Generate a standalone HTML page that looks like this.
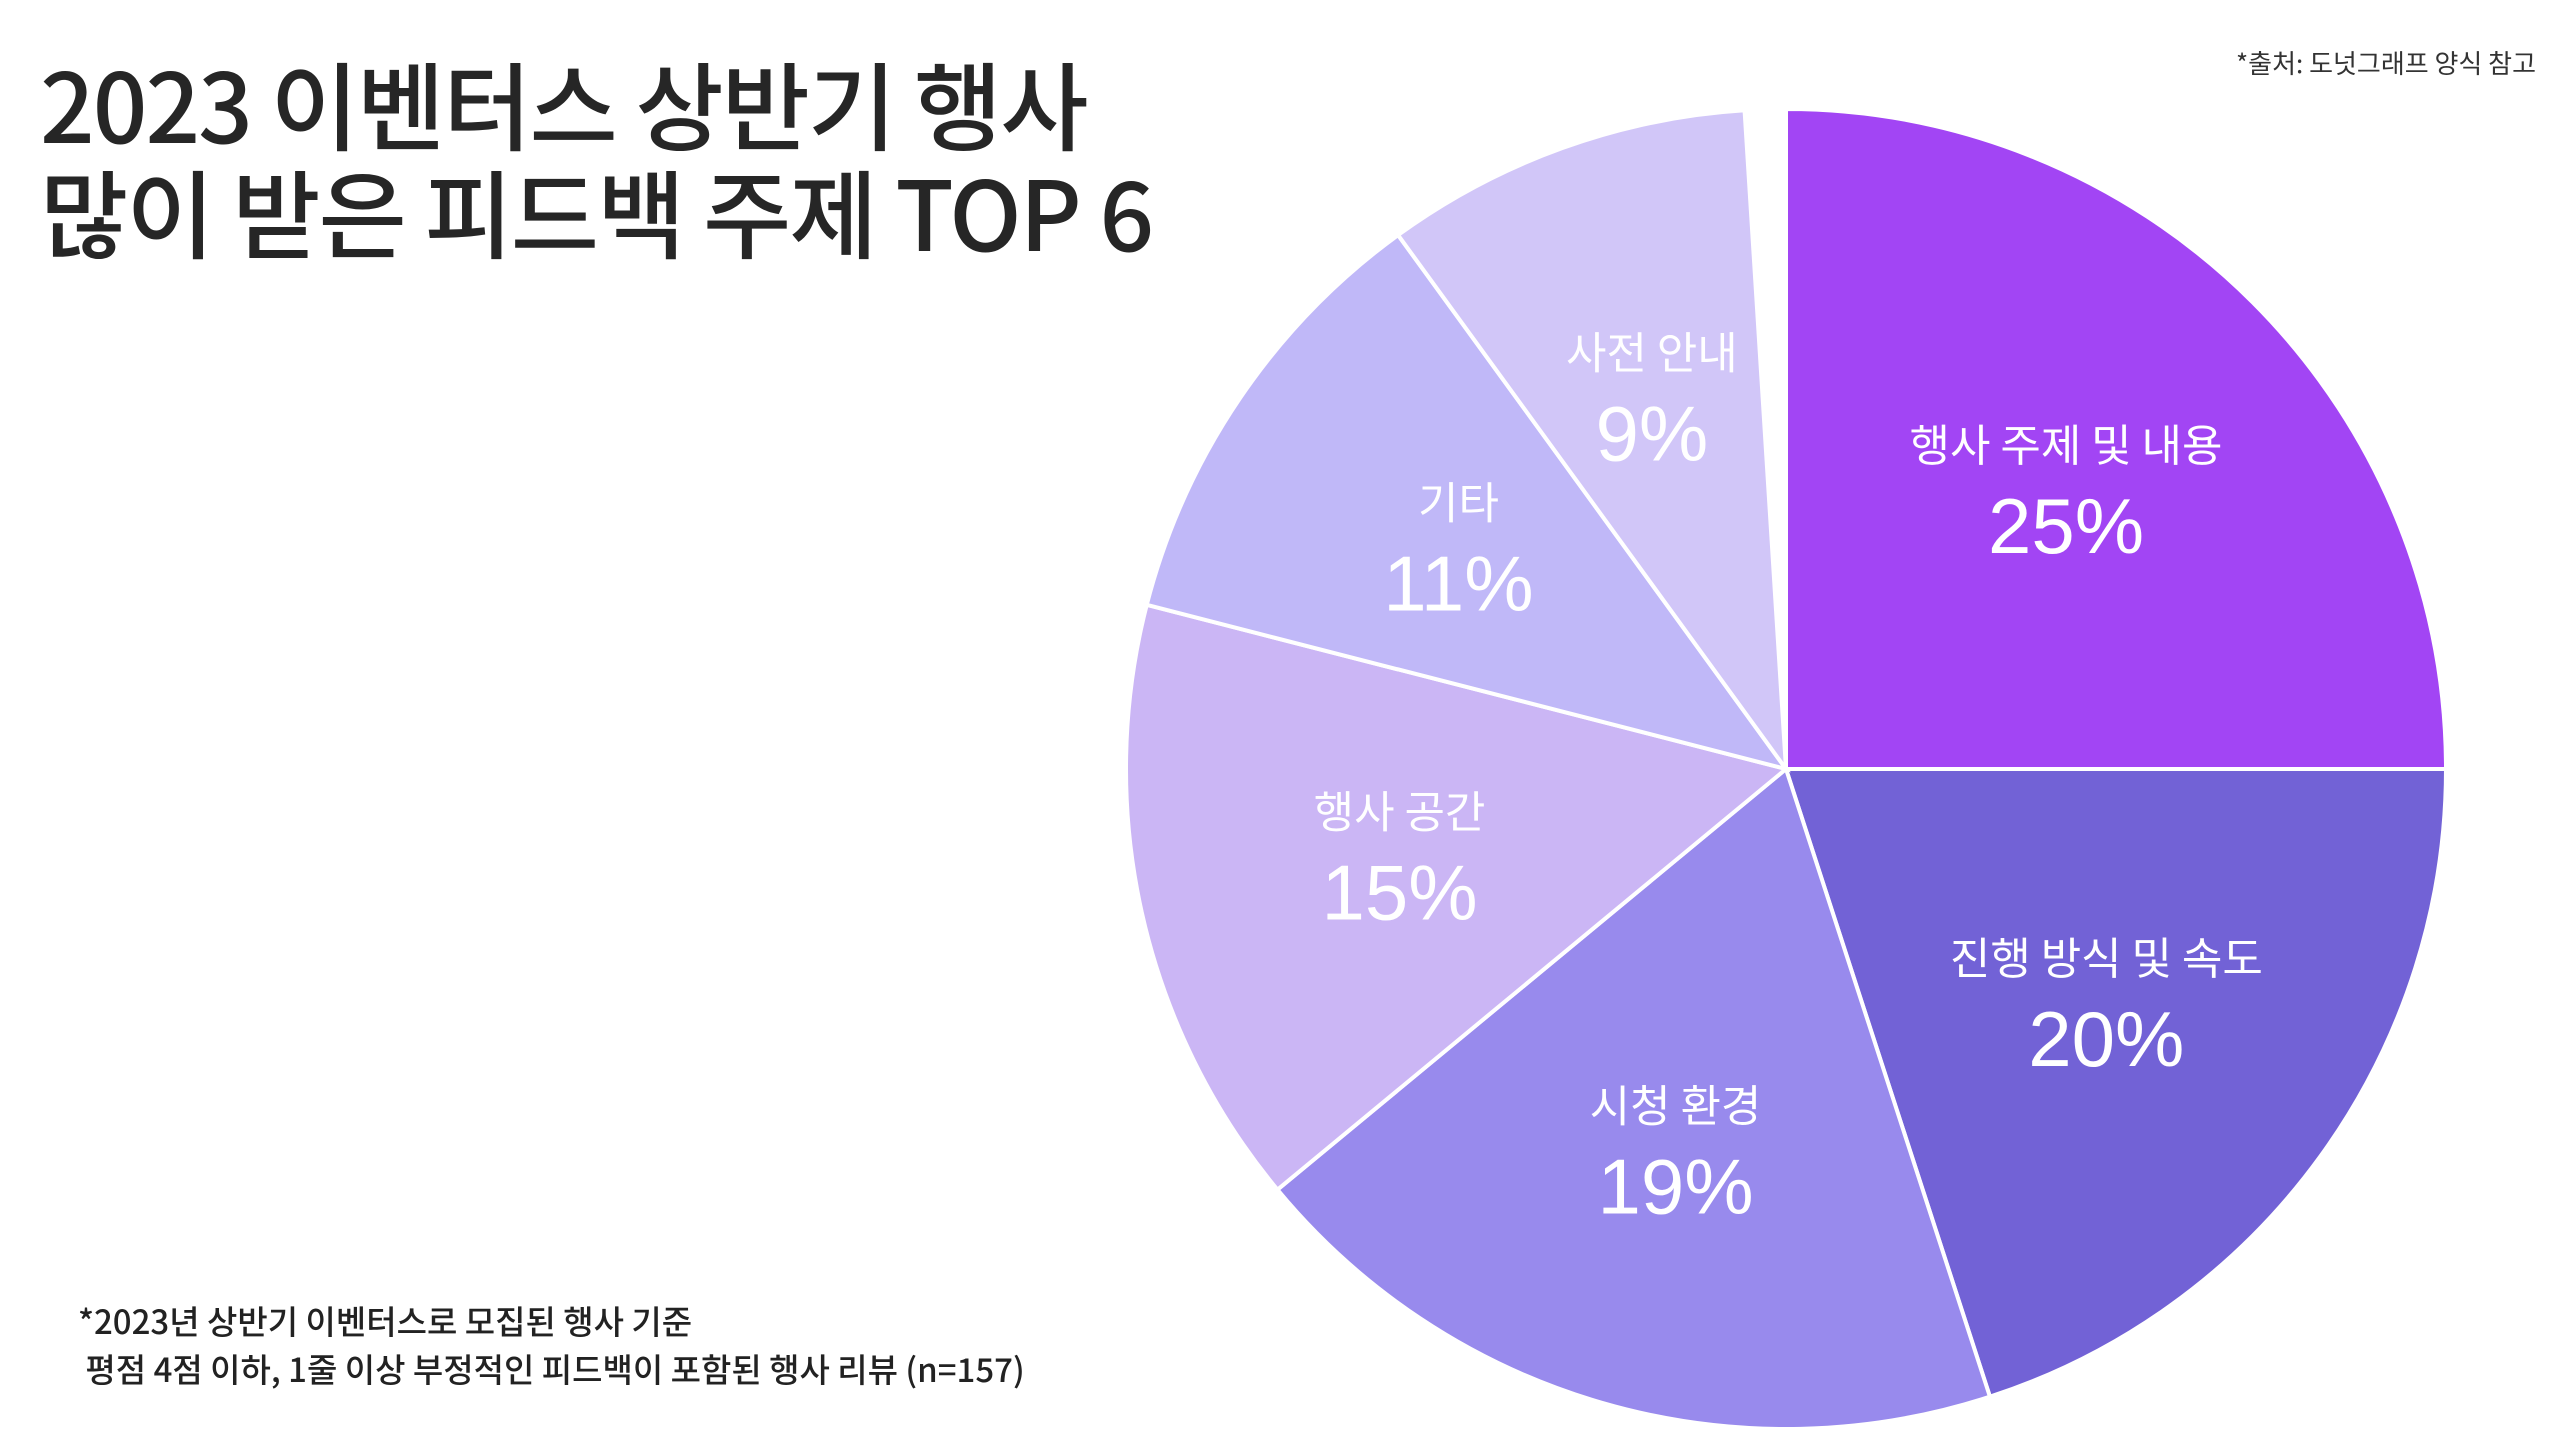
<!DOCTYPE html>
<html><head><meta charset="utf-8"><style>
body{margin:0;width:2570px;height:1436px;background:#fff;overflow:hidden;font-family:"Liberation Sans","Noto Sans CJK KR",sans-serif;position:relative}
.title{position:absolute;left:40px;top:48px;font-size:96px;line-height:108px;color:#262626;font-family:"Noto Sans CJK KR",sans-serif;font-weight:500;letter-spacing:-2px}
.src{position:absolute;right:34px;top:44px;font-size:26px;color:#333;font-family:"Noto Sans CJK KR",sans-serif}
.foot{position:absolute;left:78px;top:1296px;font-size:33px;line-height:48px;color:#222;font-family:"Noto Sans CJK KR",sans-serif;font-weight:500}
svg{position:absolute;left:0;top:0}
</style></head><body>
<div class="title">2023 이벤터스 상반기 행사<br>많이 받은 피드백 주제 TOP 6</div>
<div class="src">*출처: 도넛그래프 양식 참고</div>
<div class="foot">*2023년 상반기 이벤터스로 모집된 행사 기준<br>&nbsp;평점 4점 이하, 1줄 이상 부정적인 피드백이 포함된 행사 리뷰 (n=157)</div>
<svg id="chart" width="2570" height="1436"></svg>
<script>
const categories=["행사 주제 및 내용","진행 방식 및 속도","시청 환경","행사 공간","기타","사전 안내"];
const values=[25,20,19,15,11,9];
const colors=["#A245F4","#7262D6","#988AED","#CBB6F5","#C0B8F8","#D1C6F8"];
const cx=1786,cy=769,R=660;
const svg=document.getElementById('chart');
const NS="http://www.w3.org/2000/svg";
function pt(a,r){return [cx+r*Math.sin(a),cy-r*Math.cos(a)];}
function angle(v){return v/100*2*Math.PI;}
let acc=0;
values.forEach((v,i)=>{
  const a0=angle(acc),a1=angle(acc+v);acc+=v;
  const p0=pt(a0,R),p1=pt(a1,R);
  const large=(a1-a0)>Math.PI?1:0;
  const path=document.createElementNS(NS,'path');
  path.setAttribute('d',`M${cx},${cy} L${p0[0]},${p0[1]} A${R},${R} 0 ${large} 1 ${p1[0]},${p1[1]} Z`);
  path.setAttribute('fill',colors[i]);
  path.setAttribute('stroke','#fff');
  path.setAttribute('stroke-width','4');
  
  
  svg.appendChild(path);
});
acc=0;
values.forEach((v,i)=>{
  const am=angle(acc+v/2);acc+=v;
  const p=pt(am,0.6*R);
  const t1=document.createElementNS(NS,'text');
  t1.setAttribute('x',p[0]);t1.setAttribute('y',p[1]-28);
  t1.setAttribute('text-anchor','middle');t1.setAttribute('fill','#fff');
  t1.setAttribute('font-size','44');
  t1.setAttribute('font-family','"Noto Sans CJK KR",sans-serif');
  t1.textContent=categories[i];
  
  
  svg.appendChild(t1);
  const t2=document.createElementNS(NS,'text');
  t2.setAttribute('x',p[0]);t2.setAttribute('y',p[1]+64);
  t2.setAttribute('text-anchor','middle');t2.setAttribute('fill','#fff');
  t2.setAttribute('font-size','78');
  t2.setAttribute('font-family','"Liberation Sans",sans-serif');
  t2.textContent=v+'%';
  
  
  svg.appendChild(t2);
});
</script>
</body></html>
